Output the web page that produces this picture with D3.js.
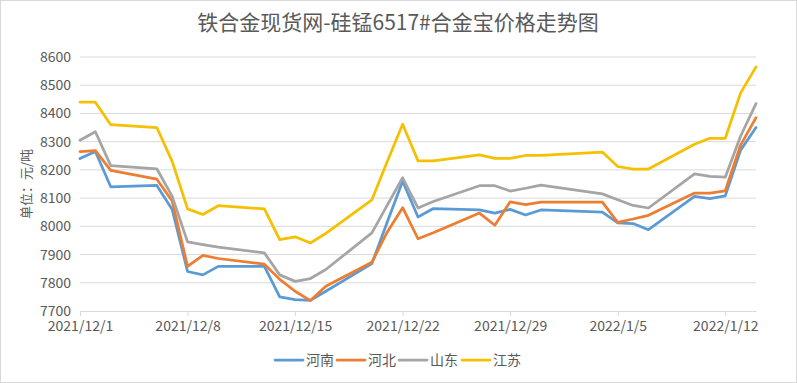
<!DOCTYPE html>
<html>
<head>
<meta charset="utf-8">
<script src="https://cdn.jsdelivr.net/npm/d3@7"></script>
<style>
  body { margin: 0; background: #fff; }
  text { font-family: "Noto Sans CJK SC", "Noto Sans", sans-serif; fill: #595959; }
</style>
</head>
<body>
<div id="chart"></div>
<script>
// price data (元/吨), trading days only
const dates = ["2021-12-01","2021-12-02","2021-12-03","2021-12-06","2021-12-07","2021-12-08","2021-12-09","2021-12-10",
  "2021-12-13","2021-12-14","2021-12-15","2021-12-16","2021-12-17","2021-12-20","2021-12-21","2021-12-22",
  "2021-12-23","2021-12-24","2021-12-27","2021-12-28","2021-12-29","2021-12-30","2021-12-31","2022-01-04",
  "2022-01-05","2022-01-06","2022-01-07","2022-01-10","2022-01-11","2022-01-12","2022-01-13","2022-01-14"];

const henan    = [8240,8265,8140,8145,8060,7840,7828,7858,7858,7750,7740,7738,7770,7868,8015,8160,8033,8063,8058,8047,8060,8040,8058,8050,8012,8010,7988,8106,8098,8108,8270,8350];
const hebei    = [8265,8268,8198,8167,8090,7858,7897,7886,7866,7812,7770,7737,7788,7873,7980,8066,7956,7977,8047,8004,8087,8077,8086,8086,8014,8026,8039,8118,8118,8126,8288,8385];
const shandong = [8305,8335,8215,8204,8106,7945,7935,7926,7906,7828,7805,7815,7847,7977,8075,8172,8065,8088,8144,8144,8125,8135,8146,8115,8094,8074,8065,8186,8177,8174,8320,8435];
const jiangsu  = [8440,8440,8360,8350,8230,8062,8042,8073,8062,7953,7963,7941,7975,8094,8230,8362,8232,8232,8253,8241,8241,8251,8251,8263,8212,8203,8203,8291,8312,8312,8473,8565];

const seriesNames = ["河南", "河北", "山东", "江苏"];
const colors = ["#5B9BD5", "#ED7D31", "#A5A5A5", "#F5C000"];
const yTicks = [7700, 7800, 7900, 8000, 8100, 8200, 8300, 8400, 8500, 8600];

const width = 797, height = 383;
const margin = { left: 80, right: 41, top: 57, bottom: 72 };

const parse = d3.timeParse("%Y-%m-%d");
const days = dates.map(parse);

const svg = d3.select("#chart").append("svg")
  .attr("width", width)
  .attr("height", height);

// outer frame
svg.append("rect")
  .attr("x", 0.5).attr("y", 0.5)
  .attr("width", width - 1).attr("height", height - 1)
  .attr("fill", "#fff").attr("stroke", "#d9d9d9");

const x = d3.scaleTime()
  .domain([days[0], days[days.length - 1]])
  .range([margin.left, width - margin.right]);

const y = d3.scaleLinear()
  .domain([7700, 8600])
  .range([height - margin.bottom, margin.top]);

// title
svg.append("text")
  .attr("x", 398).attr("y", 30)
  .attr("text-anchor", "middle")
  .style("font-size", "21px")
  .text("铁合金现货网-硅锰6517#合金宝价格走势图");

// gridlines
svg.append("g")
  .selectAll("line")
  .data(yTicks.slice(1))
  .enter().append("line")
  .attr("x1", margin.left).attr("x2", width - margin.right)
  .attr("y1", d => y(d)).attr("y2", d => y(d))
  .attr("stroke", "#d9d9d9").attr("stroke-width", 1);

// y axis labels
const yAxis = svg.append("g")
  .attr("transform", `translate(${margin.left},0)`)
  .call(d3.axisLeft(y).tickValues(yTicks).tickFormat(d3.format("d")).tickSize(0).tickPadding(9));
yAxis.select(".domain").remove();
yAxis.selectAll("text")
  .style("font-size", "14px")
  .style("font-family", "'Noto Sans CJK SC', sans-serif")
  .attr("fill", "#595959");

svg.append("text")
  .attr("transform", `translate(26,${(margin.top + height - margin.bottom) / 2}) rotate(-90)`)
  .attr("text-anchor", "middle")
  .attr("dy", "0.35em")
  .style("font-size", "13px")
  .text("单位：元/吨");

// x axis
const xTicks = d3.timeDay.range(days[0], d3.timeDay.offset(days[days.length - 1], 1), 7);
const xAxis = svg.append("g")
  .attr("transform", `translate(0,${height - margin.bottom})`)
  .call(d3.axisBottom(x).tickValues(xTicks).tickSizeInner(5).tickSizeOuter(0)
    .tickFormat(d3.timeFormat("%Y/%-m/%-d")).tickPadding(5));
xAxis.select(".domain").attr("stroke", "#d9d9d9");
xAxis.selectAll(".tick line").attr("stroke", "#d9d9d9");
xAxis.selectAll("text")
  .style("font-size", "14px")
  .style("font-family", "'Noto Sans CJK SC', sans-serif")
  .attr("fill", "#595959");

// lines
const allSeries = [henan, hebei, shandong, jiangsu];
const line = d3.line()
  .x((d, i) => x(days[i]))
  .y(d => y(d));

svg.append("g")
  .selectAll("path")
  .data(allSeries)
  .enter().append("path")
  .attr("d", d => line(d))
  .attr("fill", "none")
  .attr("stroke", (d, i) => colors[i])
  .attr("stroke-width", 2.75)
  .attr("stroke-linejoin", "round")
  .attr("stroke-linecap", "round");

// legend
const legendX = [275, 337, 399, 462];
const legend = svg.append("g")
  .selectAll("g")
  .data(seriesNames)
  .enter().append("g")
  .attr("transform", (d, i) => `translate(${legendX[i]},360)`);
legend.append("line")
  .attr("x1", 0).attr("x2", 28)
  .attr("stroke", (d, i) => colors[i])
  .attr("stroke-width", 2.75)
  .attr("stroke-linecap", "round");
legend.append("text")
  .attr("x", 31).attr("dy", "0.35em")
  .style("font-size", "14px")
  .text(d => d);
</script>
</body>
</html>
